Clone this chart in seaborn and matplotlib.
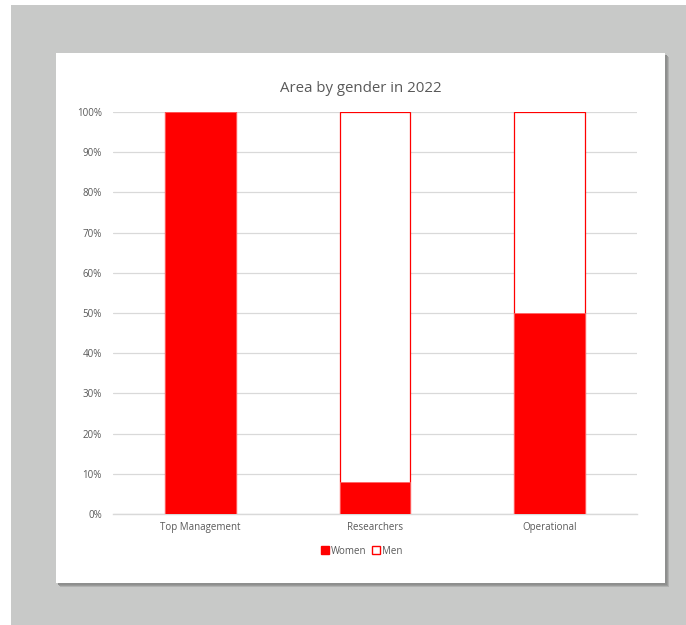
import matplotlib
matplotlib.use("Agg")
import matplotlib.pyplot as plt
from matplotlib.patches import Rectangle, Patch
import seaborn as sns
import pandas as pd

categories = ["Top Management", "Researchers", "Operational"]
women = [100, 8, 50]
men = [0, 92, 50]
yticks = [0, 10, 20, 30, 40, 50, 60, 70, 80, 90, 100]
title = "Area by gender in 2022"

W, H = 686, 625
sns.set_theme(style="white")
plt.rcParams['font.family'] = ['Open Sans', 'DejaVu Sans']

fig = plt.figure(figsize=(W / 100, H / 100), dpi=100)
fig.patch.set_facecolor("white")

def fx(px):
    return px / W

def fy(py):
    return 1 - py / H

# gray page background
fig.patches.append(Rectangle((fx(11), 0), 1 - fx(11), fy(5), transform=fig.transFigure,
                             facecolor="#c8c9c8", edgecolor="none", zorder=-10))
# shadow
for off, col in [(4, "#b0b1b0"), (3, "#9a9b9a"), (2, "#8e8f8e")]:
    fig.patches.append(Rectangle((fx(56 + off), fy(583 + off)), fx(609), (583 - 53) / H,
                                 transform=fig.transFigure, facecolor=col, edgecolor="none", zorder=-9))
# white card
fig.patches.append(Rectangle((fx(56), fy(583)), fx(609), (583 - 53) / H, transform=fig.transFigure,
                             facecolor="white", edgecolor="none", zorder=-8))

ax = fig.add_axes([fx(113), fy(514), fx(637) - fx(113), (514 - 112) / H])
ax.set_facecolor("none")
ax.set_zorder(5)

df = pd.DataFrame({"Area": categories, "Women": women,
                   "Total": [w + m for w, m in zip(women, men)]})

sns.barplot(data=df, x="Area", y="Total", color="white", edgecolor="#ff0000",
            linewidth=0.9, width=0.406, saturation=1, ax=ax, zorder=3)
sns.barplot(data=df, x="Area", y="Women", color="#ff0000", edgecolor="#ff6666",
            linewidth=0.6, width=0.406, saturation=1, ax=ax, zorder=4)

ax.set_xlim(-0.5, 2.5)
ax.set_ylim(0, 100)
ax.set_yticks(yticks)
ax.set_yticklabels([f"{v}%" for v in yticks])
ax.yaxis.grid(True, color="#d9d9d9", linewidth=0.9)
ax.set_axisbelow(True)
for s in ["top", "right", "left"]:
    ax.spines[s].set_visible(False)
ax.spines["bottom"].set_color("#d9d9d9")
ax.spines["bottom"].set_linewidth(1.0)
ax.tick_params(axis="both", length=0, labelsize=7, colors="#595959", pad=6)
ax.tick_params(axis="y", pad=8)
ax.set_xlabel("")
ax.set_ylabel("")

fig.text(fx(361), fy(88), title, ha="center", va="center", fontsize=10.8, color="#595959")

handles = [Patch(facecolor="#ff0000", edgecolor="#ff0000", label="Women"),
           Patch(facecolor="white", edgecolor="#ff0000", label="Men")]
fig.legend(handles=handles, loc="center", bbox_to_anchor=(fx(362), fy(551)), ncol=2,
           frameon=False, fontsize=7, handlelength=0.8, handleheight=0.8,
           handletextpad=0.2, columnspacing=0.6, labelcolor="#595959")

fig.savefig("out.png", dpi=100)
